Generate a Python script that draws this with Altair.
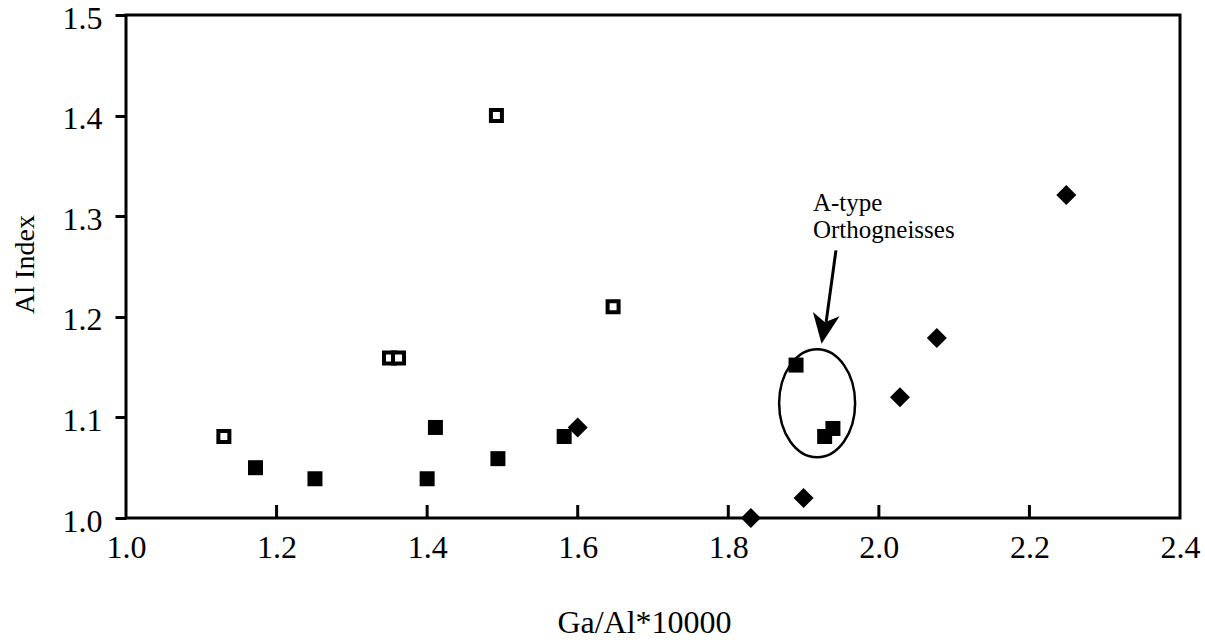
import altair as alt
import pandas as pd

# ---- data ----
open_x = [1.13, 1.35, 1.362, 1.492, 1.647]
open_y = [1.081, 1.159, 1.159, 1.40, 1.21]

filled_x = [1.172, 1.251, 1.40, 1.411, 1.494, 1.582, 1.89, 1.928, 1.939]
filled_y = [1.050, 1.039, 1.039, 1.090, 1.059, 1.081, 1.152, 1.081, 1.089]

diamond_x = [1.60, 1.83, 1.90, 2.028, 2.077, 2.249]
diamond_y = [1.090, 1.000, 1.020, 1.120, 1.179, 1.321]

x_tick_values = [1.0, 1.2, 1.4, 1.6, 1.8, 2.0, 2.2, 2.4]
y_tick_values = [1.0, 1.1, 1.2, 1.3, 1.4, 1.5]
x_inner_ticks = [1.2, 1.4, 1.6, 1.8, 2.0, 2.2]

annot_lines = ["A-type", "Orthogneisses"]
annot_x = [1.9125]
annot_y = [1.305]
ellipse_x = [1.918]
ellipse_y = [1.114]
arrow_x = [1.943]
arrow_y = [1.266]
arrow_x2 = [1.930]
arrow_y2 = [1.195]
head_x = [1.927]
head_y = [1.188]

W, H = 1054, 503
FONT = "Liberation Serif"

xs = alt.Scale(domain=[1.0, 2.4], nice=False, zero=False)
ys = alt.Scale(domain=[1.0, 1.5], nice=False, zero=False)

x_axis = alt.Axis(values=x_tick_values, format=".1f", ticks=False, domain=False, grid=False,
                  labelFont=FONT, labelFontSize=32, labelPadding=14, labelColor="black",
                  labelFlush=False, labelOverlap=False,
                  title="Ga/Al*10000", titleFont=FONT, titleFontSize=32, titleFontWeight="normal",
                  titleColor="black", titleX=518, titleY=114, titleBaseline="alphabetic",
                  titleAnchor="start", titleAlign="center")
y_axis = alt.Axis(values=y_tick_values, format=".1f", ticks=True, tickSize=11, tickWidth=3,
                  tickColor="black", domain=False, grid=False,
                  labelFont=FONT, labelFontSize=32, labelPadding=13, labelColor="black",
                  labelFlush=False, labelOverlap=False, labelOffset=3,
                  title="Al Index", titleFont=FONT, titleFontSize=28, titleFontWeight="normal",
                  titleColor="black", titleX=-93, titleY=249, titleBaseline="alphabetic",
                  titleAlign="center", titleAngle=270)

df_open = pd.DataFrame({"x": open_x, "y": open_y})
df_filled = pd.DataFrame({"x": filled_x, "y": filled_y})
df_diam = pd.DataFrame({"x": diamond_x, "y": diamond_y})

base_enc = dict(x=alt.X("x:Q", scale=xs, axis=x_axis), y=alt.Y("y:Q", scale=ys, axis=y_axis))

filled = alt.Chart(df_filled).mark_point(shape="square", filled=True, color="black", size=225, opacity=1).encode(**base_enc)
opened = alt.Chart(df_open).mark_point(shape="square", filled=False, fill="white", stroke="black",
                                       strokeWidth=4, size=121, opacity=1, fillOpacity=1).encode(
    x=alt.X("x:Q", scale=xs), y=alt.Y("y:Q", scale=ys))
diam = alt.Chart(df_diam).mark_point(shape="diamond", filled=True, color="black", size=400, opacity=1).encode(
    x=alt.X("x:Q", scale=xs), y=alt.Y("y:Q", scale=ys))

ticks_df = pd.DataFrame({"x": x_inner_ticks})
xticks = alt.Chart(ticks_df).mark_rule(color="black", strokeWidth=3).encode(
    x=alt.X("x:Q", scale=xs), y=alt.value(H), y2=alt.value(H - 13))

ell_df = pd.DataFrame({"x": ellipse_x, "y": ellipse_y})
ellipse = alt.Chart(ell_df).mark_point(
    shape="M -0.7037,0 A 0.7037,1 0 1 1 0.7037,0 A 0.7037,1 0 1 1 -0.7037,0 Z",
    filled=False, stroke="black", strokeWidth=2.5, size=11664, opacity=1).encode(
    x=alt.X("x:Q", scale=xs), y=alt.Y("y:Q", scale=ys))

arr_df = pd.DataFrame({"x": arrow_x, "y": arrow_y, "x2": arrow_x2, "y2": arrow_y2})
shaft = alt.Chart(arr_df).mark_rule(color="black", strokeWidth=3).encode(
    x=alt.X("x:Q", scale=xs), y=alt.Y("y:Q", scale=ys), x2="x2:Q", y2="y2:Q")

head_df = pd.DataFrame({"x": head_x, "y": head_y})
head = alt.Chart(head_df).mark_point(
    shape="M 0,1 L -0.9,-1 L 0,-0.45 L 0.9,-1 Z", filled=True, color="black",
    size=900, angle=9, opacity=1).encode(x=alt.X("x:Q", scale=xs), y=alt.Y("y:Q", scale=ys))

txt_df = pd.DataFrame({"x": annot_x, "y": annot_y})
annot = alt.Chart(txt_df).mark_text(
    text=annot_lines, align="left", baseline="alphabetic", font=FONT, fontSize=25,
    lineHeight=27, color="black").encode(x=alt.X("x:Q", scale=xs), y=alt.Y("y:Q", scale=ys))

chart = alt.layer(xticks, filled, opened, diam, ellipse, shaft, head, annot).properties(
    width=W, height=H,
    autosize=alt.AutoSizeParams(type="none"),
    padding={"left": 126, "top": 15, "right": 25, "bottom": 125},
    background="white",
).configure_view(stroke="black", strokeWidth=3)

chart.save("out.html", embed_options={"renderer": "svg", "actions": False})
